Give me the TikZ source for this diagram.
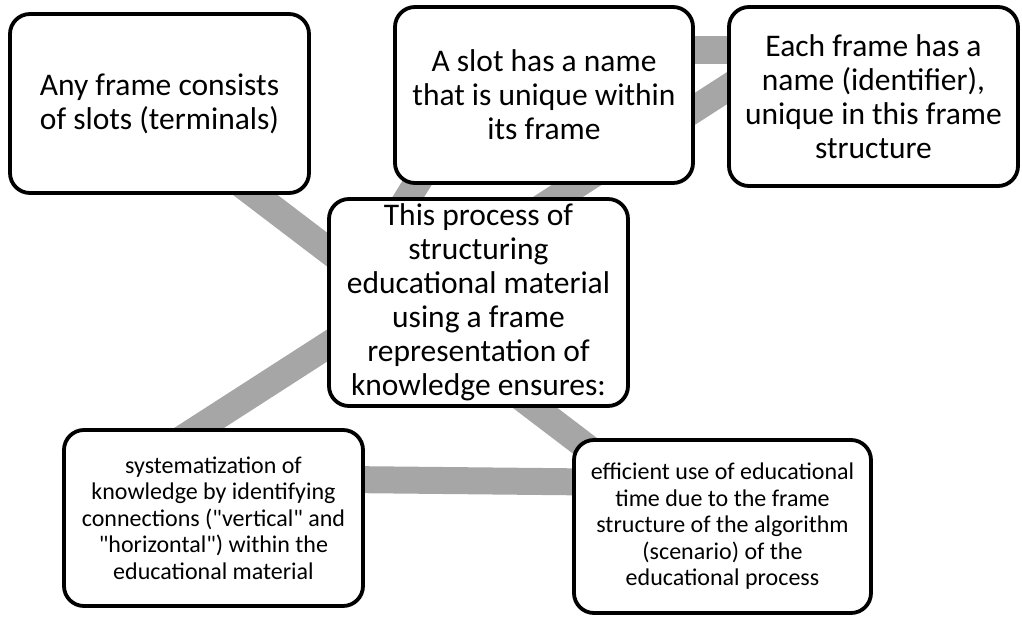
\documentclass[tikz,border=0pt]{standalone}
\usepackage{fontspec}
\setmainfont{Carlito}
\usepackage{tikz}
\usetikzlibrary{positioning, backgrounds}
\definecolor{linkgray}{RGB}{166,166,166}
\tikzstyle{box}=[draw, line width=3.8pt, rounded corners=20pt, fill=white, align=center, inner sep=0pt]
\tikzstyle{bigtext}=[font=\fontsize{31.5}{34}\selectfont]
\tikzstyle{smalltext}=[font=\fontsize{24}{26.5}\selectfont]
\tikzstyle{link}=[draw=linkgray, line width=27pt]

\begin{document}
\begin{tikzpicture}[node distance=200pt]
      \useasboundingbox (-478.5pt,302.5pt) rectangle (543.5pt,-316.5pt);

      \node [box, bigtext, minimum width=299pt, minimum height=207pt] (ensures) {This process of\\ structuring\\ educational material\\ using a frame\\ representation of\\ knowledge ensures:};

      \node [box, bigtext, minimum width=299pt, minimum height=179pt] (slots) [above of=ensures, node distance=199pt, xshift=-319pt] {Any frame consists\\ of slots (terminals)};
      \node [box, bigtext, minimum width=298pt, minimum height=176pt] (slotname) [above of=ensures, node distance=207.5pt, xshift=65.5pt] {A slot has a name\\ that is unique within\\ its frame};
      \node [box, bigtext, minimum width=289pt, minimum height=179pt] (framename) [above of=ensures, node distance=206pt, xshift=395pt] {Each frame has a\\ name (identifier),\\ unique in this frame\\ structure};

      \node [box, smalltext, minimum width=299pt, minimum height=176pt] (system) [below of=ensures, node distance=215.5pt, xshift=-265pt] {systematization of\\ knowledge by identifying\\ connections (\textquotedbl vertical\textquotedbl{} and\\ \textquotedbl horizontal\textquotedbl) within the\\ educational material};
      \node [box, smalltext, minimum width=297pt, minimum height=173pt] (efficient) [below of=ensures, node distance=224pt, xshift=244pt] {efficient use of educational\\ time due to the frame\\ structure of the algorithm\\ (scenario) of the\\ educational process};

      \begin{pgfonlayer}{background}
        \path[link] ([xshift=69.5pt, yshift=20pt]slots.south) edge ([xshift=29pt, yshift=-20pt]efficient.north west);
        \path[link] ([xshift=-39.5pt, yshift=-16pt]system.north) edge ([xshift=25pt, yshift=24.5pt]framename.west);
        \path[link] ([xshift=-20pt, yshift=45pt]slotname.east) edge ([xshift=20pt, yshift=46.5pt]framename.west);
        \path[link] ([xshift=-20pt, yshift=38.5pt]system.east) edge ([xshift=20pt, yshift=44.5pt]efficient.west);
        \path[link] ([xshift=32pt, yshift=15pt]slotname.south west) edge ([xshift=70pt, yshift=-18pt]ensures.north west);
      \end{pgfonlayer}
\end{tikzpicture}
\end{document}
